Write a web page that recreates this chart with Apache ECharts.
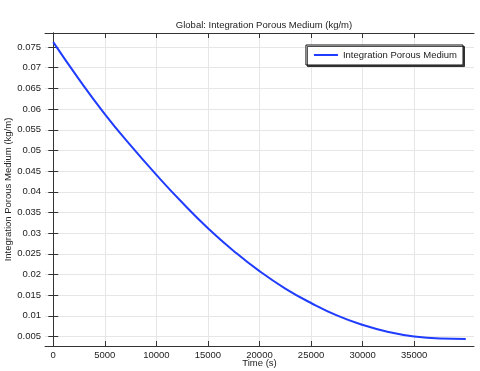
<!DOCTYPE html>
<html><head><meta charset="utf-8">
<script src="https://cdn.jsdelivr.net/npm/echarts@6/dist/echarts.min.js"></script>
<style>html,body{margin:0;padding:0;background:#fff}#c{width:480px;height:371px}</style>
</head><body><div id="c"></div>
<script>
var times = [0,2500,5000,7500,10000,12500,15000,17500,20000,22500,25000,27500,30000,32500,35000,37500,40000];
var values = [0.0762,0.0672,0.0588,0.0512,0.0441,0.0374,0.0312,0.0257,0.0208,0.0166,0.0131,0.0101,0.0078,0.0061,0.0050,0.0045,0.0044];
var xTicks = [0,5000,10000,15000,20000,25000,30000,35000];
var yTicks = [0.005,0.01,0.015,0.02,0.025,0.03,0.035,0.04,0.045,0.05,0.055,0.06,0.065,0.07,0.075];
var seriesName = 'Integration Porous Medium';
var titleText = 'Global: Integration Porous Medium (kg/m)';
var xName = 'Time (s)';
var yName = 'Integration Porous Medium (kg/m)';

var FONT = 'Liberation Sans';
var data = times.map(function(t,i){return [t, values[i]];});
var chart = echarts.init(document.getElementById('c'), null, {renderer:'canvas'});
var axisLine = {show:true, lineStyle:{color:'#333', width:1}};
function xAxisCfg(pos, labels){
  return {type:'value', position:pos, min:-800, max:40800,
    axisLine:axisLine, axisTick:{show:true, inside:true, length:5, lineStyle:{color:'#333'},
      customValues: xTicks},
    axisLabel:{show:labels, fontFamily:FONT, fontSize:9.5, color:'#222', margin:4, customValues: xTicks,
      formatter:function(v){return String(v);}},
    splitLine:{show:pos==='bottom', lineStyle:{color:'#e6e6e6', width:1}},
    name: labels ? xName : '', nameLocation:'middle', nameGap:12, nameMoveOverlap:false,
    nameTextStyle:{fontFamily:FONT, fontSize:9.5, color:'#222'}};
}
function yAxisCfg(pos, labels){
  return {type:'value', position:pos, min:0.0027, max:0.0784,
    axisLine:axisLine, axisTick:{show:true, inside:true, length:5, lineStyle:{color:'#333'},
      customValues: yTicks},
    axisLabel:{show:labels, fontFamily:FONT, fontSize:9.5, color:'#222', margin:4, customValues: yTicks,
      formatter:function(v){return String(+v.toFixed(4));}},
    splitLine:{show:pos==='left', lineStyle:{color:'#e6e6e6', width:1}},
    name: labels ? yName : '', nameLocation:'middle', nameGap:32, nameMoveOverlap:false,
    nameTextStyle:{fontFamily:FONT, fontSize:9.5, color:'#222'}};
}
chart.setOption({
  animation:false,
  title:{text:titleText, left:259, textAlign:'center', top:15,
    textStyle:{fontFamily:FONT, fontSize:9.5, fontWeight:'normal', color:'#222'}},
  grid:{left:45, right:6, top:33, bottom:25, containLabel:false, outerBoundsMode:'none'},
  legend:{show:true, right:17, top:45, orient:'vertical', itemWidth:24, itemHeight:2, itemGap:0,
    padding:[5,6,5,8], backgroundColor:'#fff', borderColor:'#111', borderWidth:1,
    shadowColor:'rgba(0,0,0,0.7)', shadowOffsetX:1.5, shadowOffsetY:1.5, shadowBlur:0,
    textStyle:{fontFamily:FONT, fontSize:9.5, color:'#222'},
    data:[{name:seriesName, icon:'rect'}]},
  xAxis:[xAxisCfg('bottom', true), xAxisCfg('top', false)],
  yAxis:[yAxisCfg('left', true), yAxisCfg('right', false)],
  series:[{type:'line', name:seriesName, data:data, smooth:true, symbol:'none',
    lineStyle:{color:'#1f3cff', width:2}, itemStyle:{color:'#1f3cff'}}]
});
</script></body></html>
